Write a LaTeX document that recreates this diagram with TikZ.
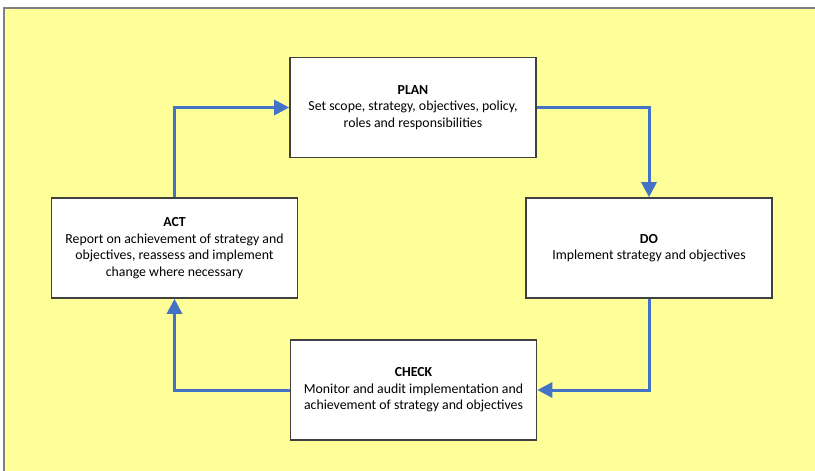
\documentclass[tikz,border=0pt]{standalone}
\usepackage{fontspec}
\setmainfont{Carlito}
\usetikzlibrary{arrows.meta}
\definecolor{padyellow}{HTML}{FFFF99}
\definecolor{cycleblue}{HTML}{4472C4}
\definecolor{edgegray}{HTML}{808080}
\begin{document}
\begin{tikzpicture}[x=1pt,y=-1pt,
    stage/.style={draw=black!75,line width=1.6pt,fill=white,
      minimum width=246pt,minimum height=100pt,align=center,
      font=\fontsize{13.8}{16.5}\selectfont},
    flow/.style={draw=cycleblue,line width=3pt,
      -{Triangle[length=15pt,width=15pt]}}]
  \useasboundingbox (0,0) rectangle (815,471);
  \fill[padyellow] (4,8) rectangle (815,471);
  \draw[edgegray,line width=2pt] (4,471) -- (4,8) -- (815,8);
  % the four stages
  \node[stage] (plan) at (413,107.5) {\textbf{PLAN}\\Set scope, strategy, objectives, policy,\\roles and responsibilities};
  \node[stage] (do) at (649,248) {\textbf{DO}\\Implement strategy and objectives};
  \node[stage] (check) at (413.5,390) {\textbf{CHECK}\\Monitor and audit implementation and\\achievement of strategy and objectives};
  \node[stage] (act) at (174.5,248) {\textbf{ACT}\\Report on achievement of strategy and\\objectives, reassess and implement\\change where necessary};
  % the cycle
  \draw[flow] (plan) -| (do);
  \draw[flow] (do) |- (check);
  \draw[flow] (check) -| (act);
  \draw[flow] (act) |- (plan);
\end{tikzpicture}
\end{document}
